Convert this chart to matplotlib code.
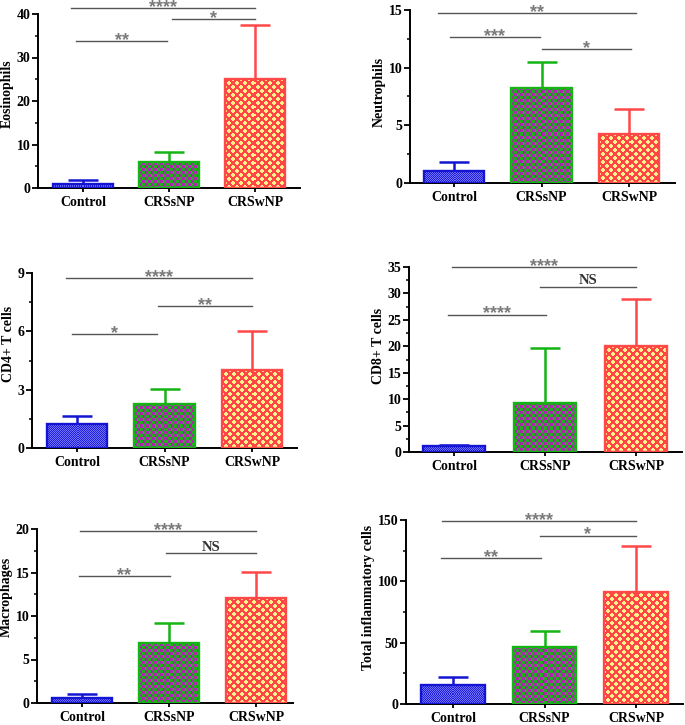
import numpy as np
import matplotlib
matplotlib.use("Agg")
import matplotlib.pyplot as plt
from matplotlib.colors import to_rgb
from matplotlib.ticker import FixedLocator

plt.rcParams["font.family"] = ["Liberation Serif", "DejaVu Serif"]
plt.rcParams["font.weight"] = "bold"

GROUPS = ["Control", "CRSsNP", "CRSwNP"]

# means and upper error (SD)
EOS_MEAN = [1.0, 5.9, 25.0]
EOS_SD = [0.8, 2.3, 12.5]
NEU_MEAN = [1.02, 8.28, 4.22]
NEU_SD = [0.78, 2.25, 2.22]
CD4_MEAN = [1.22, 2.27, 4.01]
CD4_SD = [0.41, 0.74, 2.02]
CD8_MEAN = [1.05, 9.3, 20.0]
CD8_SD = [0.35, 10.45, 9.0]
MAC_MEAN = [0.57, 6.88, 12.05]
MAC_SD = [0.5, 2.37, 3.0]
TOT_MEAN = [15.5, 46.7, 91.6]
TOT_SD = [6.2, 13.1, 37.4]

# significance bars: start, end (group axis), height, label
EOS_SIG_X0 = [-0.08, 1.03, -0.14]
EOS_SIG_X1 = [0.98, 2.0, 2.0]
EOS_SIG_Y = [33.7, 38.8, 41.4]
EOS_SIG_LAB = ["**", "*", "****"]

NEU_SIG_X0 = [-0.05, 1.01, -0.18]
NEU_SIG_X1 = [0.98, 2.02, 2.08]
NEU_SIG_Y = [12.63, 11.6, 14.7]
NEU_SIG_LAB = ["***", "*", "**"]

CD4_SIG_X0 = [-0.06, 0.92, -0.13]
CD4_SIG_X1 = [0.91, 2.0, 2.0]
CD4_SIG_Y = [5.87, 7.31, 8.74]
CD4_SIG_LAB = ["*", "**", "****"]

CD8_SIG_X0 = [-0.07, 0.94, -0.02]
CD8_SIG_X1 = [1.01, 2.0, 2.0]
CD8_SIG_Y = [26.0, 31.2, 35.0]
CD8_SIG_LAB = ["****", "NS", "****"]

MAC_SIG_X0 = [-0.04, 0.97, -0.02]
MAC_SIG_X1 = [1.01, 2.0, 2.0]
MAC_SIG_Y = [14.6, 17.2, 19.77]
MAC_SIG_LAB = ["**", "NS", "****"]

TOT_SIG_X0 = [-0.13, 0.95, -0.12]
TOT_SIG_X1 = [0.96, 2.0, 2.0]
TOT_SIG_Y = [118.8, 137.2, 149.2]
TOT_SIG_LAB = ["**", "*", "****"]

EDGE_COLORS = ["#1414d2", "#14b414", "#ff4848"]

W_PX, H_PX = 685, 725
BAR_W = 0.69


def texture(kind, w, h):
    yy, xx = np.mgrid[0:h, 0:w]
    if kind == 0:
        a, b = to_rgb("#1e1ed8"), to_rgb("#7272ff")
        mask = (xx + yy) % 2 == 0
    elif kind == 1:
        a, b = to_rgb("#18b418"), to_rgb("#b41eb4")
        mask = ((xx // 3) + (yy // 3)) % 2 == 0
    else:
        a, b = to_rgb("#fff08c"), to_rgb("#ff4646")
        fx, fy = (xx % 8) - 3.5, (yy % 8) - 3.5
        gx, gy = ((xx + 4) % 8) - 3.5, ((yy + 4) % 8) - 3.5
        mask = (fx ** 2 + fy ** 2 <= 3.0) | (gx ** 2 + gy ** 2 <= 3.0)
    return np.where(mask[..., None], np.array(a), np.array(b))


def panel(fig, box, means, sds, ylabel, ytop, major, minor, sig):
    left, right, c0, c2, zero, tick_px, box_top = box
    spacing = (c2 - c0) / 2.0
    ax = fig.add_axes([left / W_PX, 1 - zero / H_PX,
                       (right - left) / W_PX, (zero - box_top) / H_PX])
    scale = (zero - tick_px) / ytop
    xlim = (-(c0 - left) / spacing, 2 + (right - c2) / spacing)
    ylim = (0, (zero - box_top) / scale)
    ax.set_xlim(xlim)
    ax.set_ylim(ylim)

    x = np.arange(len(GROUPS))
    bars = ax.bar(x, means, BAR_W, fill=False, edgecolor=EDGE_COLORS,
                  linewidth=1.7, zorder=4)
    for i, rect in enumerate(bars):
        x0, w, h = rect.get_x(), rect.get_width(), rect.get_height()
        p = ax.transData.transform([[x0, 0], [x0 + w, h]])
        wpx = max(int(round(p[1, 0] - p[0, 0])), 1)
        hpx = max(int(round(p[1, 1] - p[0, 1])), 1)
        ax.imshow(texture(i, wpx, hpx), extent=(x0, x0 + w, 0, h),
                  aspect="auto", interpolation="nearest", zorder=3)
        ax.errorbar(x[i], means[i], yerr=[[0], [sds[i]]], fmt="none",
                    ecolor=EDGE_COLORS[i], elinewidth=1.8, capsize=11,
                    capthick=1.8, zorder=2)
    ax.set_xlim(xlim)
    ax.set_ylim(ylim)

    for x0, x1, y, lab in zip(*sig):
        ax.plot([x0, x1], [y, y], color="#555555", lw=1.0, clip_on=False,
                zorder=5)
        if lab == "NS":
            ax.annotate(lab, ((x0 + x1) / 2, y), xytext=(0, 2),
                        textcoords="offset points", ha="center",
                        va="baseline", fontsize=10.5, color="#333333",
                        annotation_clip=False)
        else:
            ax.annotate(lab, ((x0 + x1) / 2, y), xytext=(0, -2.8),
                        textcoords="offset points", ha="center",
                        va="baseline", fontsize=13, color="#7a7a7a",
                        family="Liberation Sans", annotation_clip=False)

    ax.spines["top"].set_visible(False)
    ax.spines["right"].set_visible(False)
    ax.spines["left"].set_bounds(0, ytop)
    for s in ("left", "bottom"):
        ax.spines[s].set_linewidth(1.4)
    ax.set_xticks(x)
    ax.set_xticklabels(GROUPS, fontsize=10, fontweight="bold")
    ax.set_yticks(np.arange(0, ytop + major / 2, major))
    ax.yaxis.set_minor_locator(FixedLocator(np.arange(0, ytop + minor / 2, minor)))
    ax.tick_params(axis="y", which="major", length=4, width=1.3,
                   labelsize=10, pad=1.5)
    ax.tick_params(axis="y", which="minor", length=2.5, width=1.1)
    ax.tick_params(axis="x", length=3, width=1.3, pad=3)
    ax.set_ylabel(ylabel, fontsize=10, fontweight="bold", labelpad=2)
    return ax


def main():
    fig = plt.figure(figsize=(W_PX / 100, H_PX / 100), dpi=100)

    panel(fig, (38, 300, 83, 255, 188, 14, 0), EOS_MEAN, EOS_SD,
          "Eosinophils", 40, 10, 5,
          (EOS_SIG_X0, EOS_SIG_X1, EOS_SIG_Y, EOS_SIG_LAB))
    panel(fig, (410, 675, 454, 629, 183, 10, 0), NEU_MEAN, NEU_SD,
          "Neutrophils", 15, 5, 2.5,
          (NEU_SIG_X0, NEU_SIG_X1, NEU_SIG_Y, NEU_SIG_LAB))
    panel(fig, (32, 297, 77, 252, 448, 273, 240), CD4_MEAN, CD4_SD,
          "CD4+ T cells", 9, 3, 1.5,
          (CD4_SIG_X0, CD4_SIG_X1, CD4_SIG_Y, CD4_SIG_LAB))
    panel(fig, (409, 682, 454, 636, 452, 267, 240), CD8_MEAN, CD8_SD,
          "CD8+ T cells", 35, 5, 2.5,
          (CD8_SIG_X0, CD8_SIG_X1, CD8_SIG_Y, CD8_SIG_LAB))
    panel(fig, (37, 293, 82, 256, 703, 529, 490), MAC_MEAN, MAC_SD,
          "Macrophages", 20, 5, 2.5,
          (MAC_SIG_X0, MAC_SIG_X1, MAC_SIG_Y, MAC_SIG_LAB))
    panel(fig, (406, 683, 453, 636, 704, 520, 490), TOT_MEAN, TOT_SD,
          "Total inflammatory cells", 150, 50, 25,
          (TOT_SIG_X0, TOT_SIG_X1, TOT_SIG_Y, TOT_SIG_LAB))

    fig.savefig("out.png", dpi=100)


if __name__ == "__main__":
    main()
